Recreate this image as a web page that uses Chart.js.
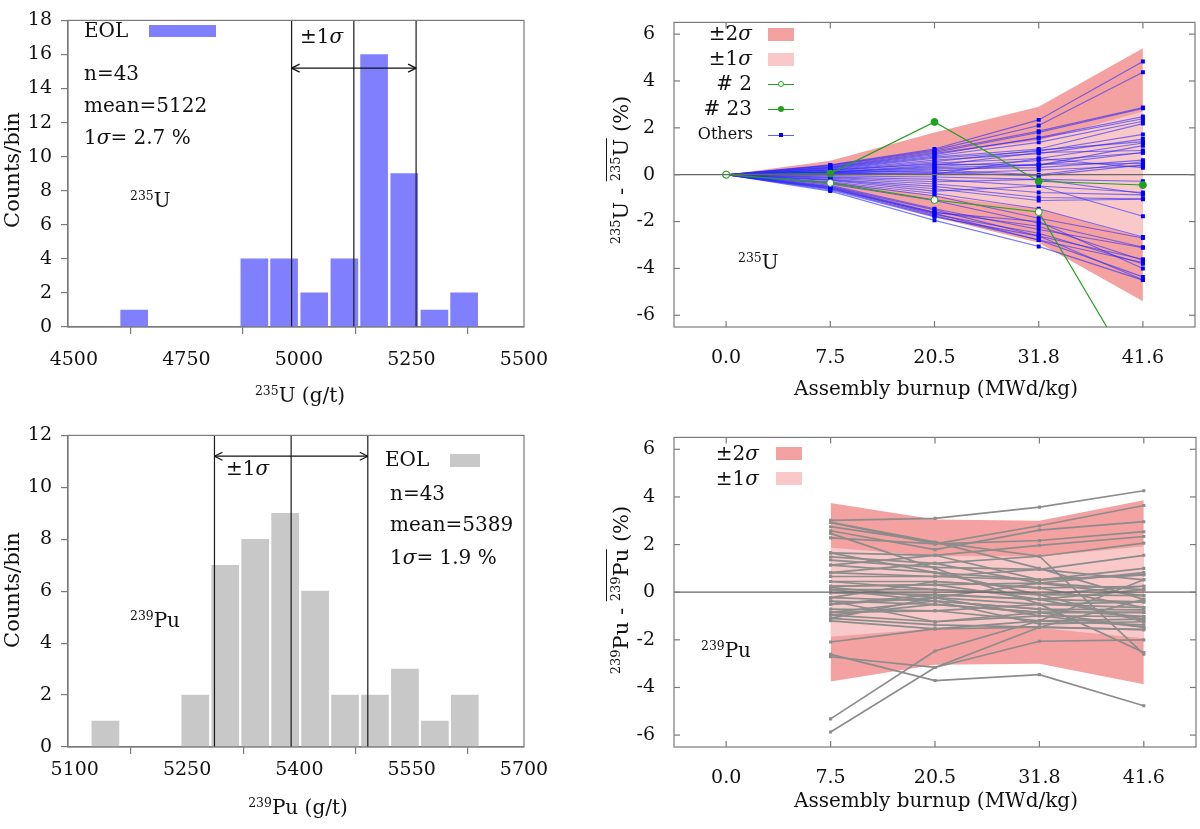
<!DOCTYPE html>
<html>
<head>
<meta charset="utf-8">
<script src="https://cdn.jsdelivr.net/npm/chart.js@4.4.1/dist/chart.umd.min.js"></script>
<style>
  body { margin: 0; background: #fff; }
  #fig { position: relative; width: 1200px; height: 829px; font-family: "DejaVu Serif", serif; color: #111; overflow: hidden; }
  canvas { position: absolute; }
  .t { position: absolute; font-size: 20px; line-height: 1; white-space: nowrap; transform: translateY(-50%); }
  .t sup, .rot sup { font-size: 0.62em; vertical-align: 0.6em; line-height: 0; }
  .rot { position: absolute; font-size: 21px; line-height: 1; white-space: nowrap; transform: translate(-50%, -50%) rotate(-90deg); }
  .ctr { transform: translate(-50%, -50%); }
  .ov { display: inline-block; border-top: 1.5px solid #111; padding-top: 4px; line-height: 1; }
  .sw { position: absolute; }
  .ln { position: absolute; height: 0; }
  .mk { position: absolute; box-sizing: border-box; }
</style>
</head>
<body>
<div id="fig">
  <canvas id="histU" width="600" height="415" style="left:0;top:0"></canvas>
  <canvas id="devU" width="600" height="415" style="left:600px;top:0"></canvas>
  <canvas id="histPu" width="600" height="414" style="left:0;top:415px"></canvas>
  <canvas id="devPu" width="600" height="414" style="left:600px;top:415px"></canvas>

  <!-- top left -->
  <div class="t" style="left:84px;top:30px">EOL</div>
  <div class="sw" style="left:149px;top:25px;width:67px;height:12px;background:#8080ff"></div>
  <div class="t" style="left:300px;top:36px">±1<i>σ</i></div>
  <div class="t" style="left:84px;top:73px">n=43</div>
  <div class="t" style="left:84px;top:105px">mean=5122</div>
  <div class="t" style="left:84px;top:137px">1<i>σ</i>= 2.7 %</div>
  <div class="t" style="left:130px;top:200px"><sup>235</sup>U</div>
  <div class="rot" style="left:12px;top:170px">Counts/bin</div>
  <div class="t ctr" style="left:300px;top:395px"><sup>235</sup>U (g/t)</div>

  <!-- bottom left -->
  <div class="t" style="left:226px;top:468px">±1<i>σ</i></div>
  <div class="t" style="left:385px;top:459px">EOL</div>
  <div class="sw" style="left:450px;top:454px;width:30px;height:13px;background:#c8c8c8"></div>
  <div class="t" style="left:390px;top:493px">n=43</div>
  <div class="t" style="left:390px;top:524px">mean=5389</div>
  <div class="t" style="left:390px;top:557px">1<i>σ</i>= 1.9 %</div>
  <div class="t" style="left:130px;top:620px"><sup>239</sup>Pu</div>
  <div class="rot" style="left:12px;top:590px">Counts/bin</div>
  <div class="t ctr" style="left:298px;top:807px"><sup>239</sup>Pu (g/t)</div>

  <!-- top right -->
  <div class="t" style="right:448px;top:33px">±2<i>σ</i></div>
  <div class="sw" style="left:768px;top:28px;width:26px;height:13px;background:#f3a1a1"></div>
  <div class="t" style="right:448px;top:58px">±1<i>σ</i></div>
  <div class="sw" style="left:768px;top:53px;width:26px;height:13px;background:#f9c9c9"></div>
  <div class="t" style="right:448px;top:83px"># 2</div>
  <div class="ln" style="left:768px;top:84px;width:26px;border-top:1px solid #22a022"></div>
  <div class="mk" style="left:778px;top:81px;width:6px;height:6px;border:1px solid #22a022;border-radius:50%;background:#fff"></div>
  <div class="t" style="right:448px;top:108px"># 23</div>
  <div class="ln" style="left:768px;top:109px;width:26px;border-top:1px solid #22a022"></div>
  <div class="mk" style="left:778px;top:106px;width:6px;height:6px;border-radius:50%;background:#22a022"></div>
  <div class="t" style="right:447px;top:134px;font-size:16px">Others</div>
  <div class="ln" style="left:768px;top:135px;width:26px;border-top:1px solid #6060ff"></div>
  <div class="mk" style="left:779px;top:133px;width:4px;height:4px;background:#0000ff"></div>
  <div class="t" style="left:738px;top:262px"><sup>235</sup>U</div>
  <div class="rot" style="left:619px;top:170px"><sup>235</sup>U - <span class="ov"><sup>235</sup>U</span> (%)</div>
  <div class="t ctr" style="left:936px;top:388px">Assembly burnup (MWd/kg)</div>

  <!-- bottom right -->
  <div class="t" style="right:441px;top:453px">±2<i>σ</i></div>
  <div class="sw" style="left:776px;top:447px;width:26px;height:13px;background:#f3a1a1"></div>
  <div class="t" style="right:441px;top:478px">±1<i>σ</i></div>
  <div class="sw" style="left:776px;top:472px;width:26px;height:13px;background:#f9c9c9"></div>
  <div class="t" style="left:701px;top:650px"><sup>239</sup>Pu</div>
  <div class="rot" style="left:619px;top:590px"><sup>239</sup>Pu - <span class="ov"><sup>239</sup>Pu</span> (%)</div>
  <div class="t ctr" style="left:936px;top:800px">Assembly burnup (MWd/kg)</div>
</div>

<script>
// ---- histogram data ----
const u235BinCenters = [4634, 4901, 4967, 5034, 5101, 5167, 5234, 5301, 5367];
const u235Counts = [1, 4, 4, 2, 4, 16, 9, 1, 2];
const u235Mean = 5122;
const u235SigmaPct = 2.7;
const u235XTicks = [4500, 4750, 5000, 5250, 5500];
const u235YTicks = [0, 2, 4, 6, 8, 10, 12, 14, 16, 18];

const pu239BinCenters = [5141, 5261, 5301, 5341, 5381, 5421, 5461, 5501, 5541, 5581, 5621];
const pu239Counts = [1, 2, 7, 8, 9, 6, 2, 2, 3, 1, 2];
const pu239Mean = 5389;
const pu239SigmaPct = 1.9;
const pu239XTicks = [5100, 5250, 5400, 5550, 5700];
const pu239YTicks = [0, 2, 4, 6, 8, 10, 12];

// ---- deviation vs burnup data ----
const burnup = ['0.0', '7.5', '20.5', '31.8', '41.6'];
const devTicks = [-6, -4, -2, 0, 2, 4, 6];

const u235Sigma1 = [0, 0.3, 0.9, 1.45, 2.7];
const u235Sigma2 = [0, 0.6, 1.8, 2.9, 5.4];
const u235Case2 = [0, -0.35, -1.08, -1.59, -9.1];
const u235Case23 = [0, 0.05, 2.25, -0.28, -0.44];
const u235Others = [
  [0, 0.42, 1.10, 2.34, 4.83], [0, 0.40, 1.05, 2.10, 4.37], [0, 0.38, 1.00, 1.86, 2.87],
  [0, 0.35, 0.95, 1.80, 2.83], [0, 0.30, 0.85, 1.59, 2.48], [0, 0.32, 0.90, 1.55, 2.39],
  [0, 0.28, 0.80, 1.38, 2.28], [0, 0.25, 0.75, 1.10, 2.18], [0, 0.22, 0.70, 1.00, 1.72],
  [0, 0.20, 0.62, 0.90, 1.52], [0, 0.18, 0.55, 1.05, 1.41], [0, 0.15, 0.50, 0.69, 1.35],
  [0, 0.20, 0.45, 0.41, 1.24], [0, 0.12, 0.40, 0.95, 1.03], [0, 0.10, 0.35, 0.60, 0.94],
  [0, 0.12, 0.30, 0.41, 0.95], [0, 0.08, 0.25, 0.30, 0.62], [0, 0.05, 0.20, 0.00, 0.55],
  [0, 0.10, 0.15, 0.45, 0.48], [0, 0.03, 0.10, -0.05, 0.42], [0, 0.05, 0.05, 0.20, 0.38],
  [0, 0.00, 0.02, 0.69, 0.30], [0, -0.05, -0.10, -0.20, -0.28], [0, -0.10, -0.20, -0.48, -0.76],
  [0, -0.12, -0.30, -0.20, -0.80], [0, -0.15, -0.40, -0.76, -0.86], [0, -0.20, -0.50, -0.97, -1.03],
  [0, -0.22, -0.60, -1.10, -1.05], [0, -0.25, -0.70, -0.48, -1.77], [0, -0.30, -0.80, -1.45, -2.66],
  [0, -0.35, -0.90, -1.86, -2.70], [0, -0.40, -1.10, -2.07, -3.10], [0, -0.45, -1.45, -2.34, -3.12],
  [0, -0.50, -1.50, -2.62, -3.61], [0, -0.52, -1.60, -2.20, -3.65], [0, -0.55, -1.65, -2.79, -3.75],
  [0, -0.58, -1.70, -2.50, -3.80], [0, -0.60, -1.62, -2.00, -4.00], [0, -0.62, -1.75, -2.79, -4.36],
  [0, -0.65, -1.80, -2.62, -4.48], [0, -0.70, -1.95, -3.06, -4.50]
];

const pu239Sigma1 = [null, 1.87, 1.52, 1.5, 1.93];
const pu239Sigma2 = [null, 3.75, 3.05, 3.0, 3.86];
const pu239Lines = [
  [null, 3.02, 3.10, 3.57, 4.26], [null, 2.93, 2.03, 2.79, 3.64], [null, 2.75, 2.10, 1.00, -0.30],
  [null, 2.58, 1.79, 2.61, 2.96], [null, 2.47, 1.00, -0.50, -2.53], [null, 2.28, 2.03, 2.17, 2.54],
  [null, 1.65, 1.55, 1.97, 2.34], [null, 1.48, 1.21, 1.51, 2.06], [null, 1.35, 1.04, 0.96, 1.55],
  [null, 1.14, 0.82, 0.52, 1.00], [null, 0.82, 1.21, 0.38, 0.82], [null, 0.66, 0.66, 0.52, 0.73],
  [null, 0.45, 0.45, 0.18, 0.25], [null, 0.25, 0.32, 0.38, 0.11], [null, 0.11, 0.11, -0.10, -0.14],
  [null, -0.03, -0.10, -0.30, -0.41], [null, 0.20, -0.23, -0.51, -0.65], [null, -0.23, -0.37, -0.71, -0.74],
  [null, -0.37, -0.51, -0.85, -0.85], [null, -0.51, -0.23, -0.99, -1.02], [null, -0.71, -0.78, -1.20, -1.13],
  [null, -0.85, -0.37, -1.33, -1.24], [null, -0.96, -1.24, -0.85, -1.47], [null, -1.10, -1.37, -1.47, -1.57],
  [null, -1.20, -1.54, -1.20, -1.37], [null, -2.09, -1.54, -1.47, -1.57], [null, -2.61, -3.71, -3.46, -4.77],
  [null, -2.71, -3.16, -2.06, -2.00], [null, -5.32, -2.47, -1.20, 0.52], [null, -5.87, -3.16, -1.47, -0.30],
  [null, 1.65, 0.82, -0.10, -1.24], [null, 0.82, 0.66, 0.96, 0.52], [null, -0.23, 0.45, 0.18, -0.65],
  [null, -0.51, -0.10, -0.30, -1.13], [null, 0.11, -0.37, -0.71, -1.02], [null, -0.85, -0.78, -0.51, -0.41],
  [null, 0.45, 0.11, -0.10, 0.25], [null, -0.96, -0.51, -0.85, -0.85], [null, 2.93, 2.10, 1.51, -2.60],
  [null, -0.37, -1.24, -0.99, -1.47], [null, 1.14, 1.55, 0.52, 0.73], [null, -1.10, -0.23, 0.38, -0.14],
  [null, 0.25, 0.32, -0.30, 0.11]
];

const tickFont = { family: "'DejaVu Serif', serif", size: 19 };
const textColor = "#111";
const frameColor = "#7a7a7a";

// frame box, inward mirrored ticks, zero line, sigma arrow
const decorations = {
  id: "decorations",
  afterDatasetsDraw(chart, args, opts) {
    const { ctx, chartArea: a, scales } = chart;
    const x = scales.x, y = scales.y;
    ctx.save();
    ctx.strokeStyle = frameColor;
    ctx.lineWidth = 1.2;
    const seg = (x1, y1, x2, y2) => { ctx.beginPath(); ctx.moveTo(x1, y1); ctx.lineTo(x2, y2); ctx.stroke(); };
    if (opts.zeroLine) {
      ctx.strokeStyle = "#666";
      const py = y.getPixelForValue(0);
      seg(a.left, py, a.right, py);
      ctx.strokeStyle = frameColor;
    }
    ctx.strokeRect(a.left, a.top, a.right - a.left, a.bottom - a.top);
    if (opts.inward) {
      const len = 6;
      x.ticks.forEach((t, i) => {
        const px = x.getPixelForTick(i);
        seg(px, a.bottom, px, a.bottom - len);
        seg(px, a.top, px, a.top + len);
      });
      y.ticks.forEach((t, i) => {
        const py = y.getPixelForTick(i);
        seg(a.left, py, a.left + len, py);
        seg(a.right, py, a.right - len, py);
      });
    }
    if (opts.arrow) {
      const { from, to, at } = opts.arrow;
      const x1 = x.getPixelForValue(from), x2 = x.getPixelForValue(to), py = y.getPixelForValue(at);
      ctx.strokeStyle = "#111";
      ctx.lineWidth = 1.2;
      seg(x1, py, x2, py);
      seg(x1, py, x1 + 8, py - 4); seg(x1, py, x1 + 8, py + 4);
      seg(x2, py, x2 - 8, py - 4); seg(x2, py, x2 - 8, py + 4);
    }
    ctx.restore();
  }
};

function makeHist(id, cfg) {
  const lo = cfg.mean * (1 - cfg.pct / 100);
  const hi = cfg.mean * (1 + cfg.pct / 100);
  const vline = (v) => ({
    type: "line",
    data: [{ x: v, y: 0 }, { x: v, y: cfg.yMax }],
    borderColor: "#1a1a1a",
    borderWidth: 1.2,
    pointRadius: 0,
    order: -1
  });
  new Chart(document.getElementById(id), {
    type: "bar",
    data: {
      datasets: [
        {
          data: cfg.centers.map((c, i) => ({ x: c, y: cfg.counts[i] })),
          backgroundColor: cfg.color,
          barThickness: 27,
          borderWidth: 0
        },
        vline(lo), vline(cfg.mean), vline(hi)
      ]
    },
    options: {
      responsive: false,
      animation: false,
      devicePixelRatio: 1,
      events: [],
      layout: { padding: { left: 0, right: 76, top: cfg.top, bottom: cfg.bottom } },
      plugins: {
        legend: { display: false },
        tooltip: { enabled: false },
        decorations: { arrow: { from: lo, to: hi, at: cfg.arrowY } }
      },
      scales: {
        x: {
          type: "linear",
          min: cfg.xMin,
          max: cfg.xMax,
          offset: false,
          afterBuildTicks: (s) => { s.ticks = cfg.xTicks.map((v) => ({ value: v })); },
          afterFit: (s) => { s.height = 60; },
          grid: { drawOnChartArea: false, tickLength: 7, color: frameColor, lineWidth: 1.2 },
          border: { color: frameColor, width: 1.2 },
          ticks: { font: tickFont, color: textColor, padding: cfg.xPad, maxRotation: 0, autoSkip: false, callback: (v) => String(v) }
        },
        y: {
          min: 0,
          max: cfg.yMax,
          afterBuildTicks: (s) => { s.ticks = cfg.yTicks.map((v) => ({ value: v })); },
          afterFit: (s) => { s.width = 68; },
          grid: { drawOnChartArea: false, tickLength: 7, color: frameColor, lineWidth: 1.2 },
          border: { color: frameColor, width: 1.2 },
          ticks: { font: tickFont, color: textColor, padding: 9, callback: (v) => String(v) }
        }
      }
    },
    plugins: [decorations]
  });
}

function makeDev(id, cfg) {
  const neg = (arr) => arr.map((v) => (v === null ? null : -v));
  const band = (data, color, fillTo, order) => ({
    data,
    fill: fillTo === null ? false : fillTo,
    backgroundColor: color,
    borderWidth: 0,
    pointRadius: 0,
    order
  });
  const datasets = [
    band(cfg.sigma2, "#f3a1a1", 1, 10),
    band(neg(cfg.sigma2), "#f3a1a1", null, 10),
    band(cfg.sigma1, "#f9c9c9", 3, 5),
    band(neg(cfg.sigma1), "#f9c9c9", null, 5)
  ].concat(cfg.lines);
  new Chart(document.getElementById(id), {
    type: "line",
    data: { labels: burnup, datasets },
    options: {
      responsive: false,
      animation: false,
      devicePixelRatio: 1,
      events: [],
      layout: { padding: { left: 0, right: 1, top: cfg.top, bottom: cfg.bottom } },
      plugins: {
        legend: { display: false },
        tooltip: { enabled: false },
        decorations: { inward: true, zeroLine: true }
      },
      scales: {
        x: {
          type: "category",
          offset: true,
          afterFit: (s) => { s.height = 60; },
          grid: { display: false },
          border: { display: false },
          ticks: { font: tickFont, color: textColor, padding: 11.5, maxRotation: 0 }
        },
        y: {
          min: -6.5,
          max: 6.5,
          afterBuildTicks: (s) => { s.ticks = devTicks.map((v) => ({ value: v })); },
          afterFit: (s) => { s.width = 74; },
          grid: { display: false },
          border: { display: false },
          ticks: { font: tickFont, color: textColor, padding: 11, callback: (v) => String(v) }
        }
      }
    },
    plugins: [decorations]
  });
}

makeHist("histU", {
  centers: u235BinCenters, counts: u235Counts, color: "#8080ff",
  mean: u235Mean, pct: u235SigmaPct, arrowY: 15.2,
  xMin: 4487, xMax: 5500, xTicks: u235XTicks, yMax: 18, yTicks: u235YTicks,
  top: 12, bottom: 28, xPad: 14.5
});

makeHist("histPu", {
  centers: pu239BinCenters, counts: pu239Counts, color: "#c8c8c8",
  mean: pu239Mean, pct: pu239SigmaPct, arrowY: 11.2,
  xMin: 5091, xMax: 5700, xTicks: pu239XTicks, yMax: 12, yTicks: pu239YTicks,
  top: 17, bottom: 22, xPad: 4.5
});

const blueLines = u235Others.map((row) => ({
  data: row,
  borderColor: "rgba(40,40,255,0.6)",
  borderWidth: 1.1,
  pointStyle: "rect",
  pointRadius: 2.8,
  pointBackgroundColor: "#0000ff",
  pointBorderWidth: 0,
  order: 1
}));
const greenLines = [
  { data: u235Case2, borderColor: "#22a022", borderWidth: 1.2, pointRadius: 3.5,
    pointBackgroundColor: "#fff", pointBorderColor: "#22a022", pointBorderWidth: 1, order: 0 },
  { data: u235Case23, borderColor: "#22a022", borderWidth: 1.2, pointRadius: 3.5,
    pointBackgroundColor: "#22a022", pointBorderColor: "#22a022", pointBorderWidth: 1, order: 0 }
];

makeDev("devU", {
  sigma1: u235Sigma1, sigma2: u235Sigma2,
  lines: blueLines.concat(greenLines),
  top: 13, bottom: 28
});

makeDev("devPu", {
  sigma1: pu239Sigma1, sigma2: pu239Sigma2,
  lines: pu239Lines.map((row) => ({
    data: row,
    borderColor: "#8c8c8c",
    borderWidth: 1.7,
    pointStyle: "rect",
    pointRadius: 2.2,
    pointBackgroundColor: "#8c8c8c",
    pointBorderWidth: 0,
    order: 1
  })),
  top: 18, bottom: 22
});
</script>
</body>
</html>
